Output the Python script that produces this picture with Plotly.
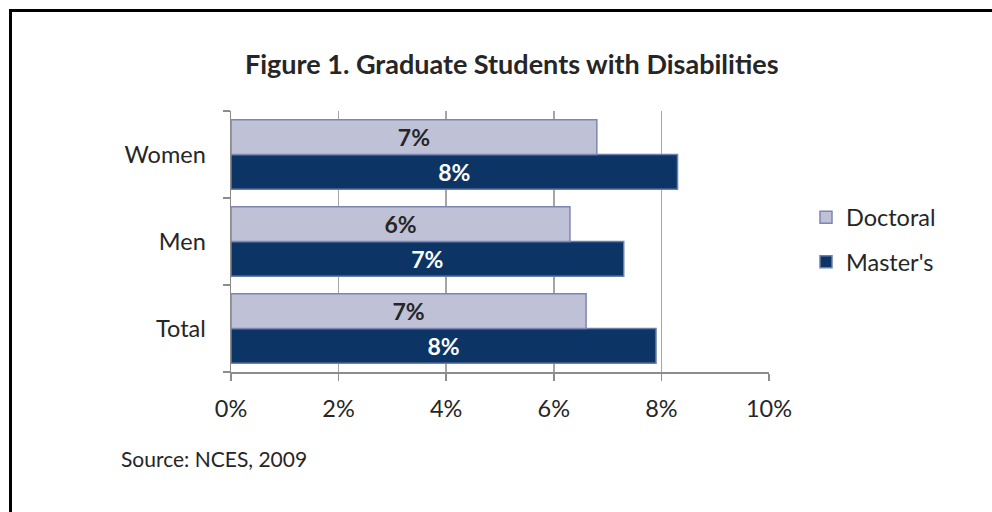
import plotly.graph_objects as go

categories = ["Women", "Men", "Total"]
doctoral = [6.8, 6.3, 6.6]
masters = [8.3, 7.3, 7.9]
x_ticks = [0, 2, 4, 6, 8, 10]
x_tick_labels = ["0%", "2%", "4%", "6%", "8%", "10%"]

FONT = "Lato"
W, H = 992, 512
L, R, T, B = 231, 769, 111, 372

fig = go.Figure()
fig.add_trace(go.Bar(
    y=categories, x=masters, orientation="h", name="Master's",
    marker=dict(color="#0C3566", line=dict(color="#6B7FAE", width=1.5)),
    texttemplate="%{x:.0f}%", textposition="inside", insidetextanchor="middle",
    textfont=dict(family=FONT, size=23, color="white", weight="bold"),
    legendgroup="m", legendrank=2, hoverinfo="skip",
))
fig.add_trace(go.Bar(
    y=categories, x=doctoral, orientation="h", name="Doctoral",
    marker=dict(color="#BFC1D6", line=dict(color="#7D86B3", width=1.5)),
    texttemplate="%{x:.0f}%", textposition="inside", insidetextanchor="middle",
    textfont=dict(family=FONT, size=23, color="#262626", weight="bold"),
    legendgroup="d", legendrank=1, hoverinfo="skip",
))

def px_x(p):
    return (p - L) / (R - L)

def px_y(p):
    return (B - p) / (B - T)

fig.update_layout(
    width=W, height=H,
    margin=dict(l=L, r=W - R, t=T, b=H - B, pad=0),
    paper_bgcolor="white", plot_bgcolor="white",
    barmode="group", bargap=0.2, bargroupgap=0,
    uniformtext=dict(minsize=23, mode="show"),
    font=dict(family=FONT, size=23, color="#262626"),
    xaxis=dict(
        range=[0, 10], tickvals=x_ticks, ticktext=x_tick_labels,
        showgrid=True, gridcolor="#A6A6A6", gridwidth=1.5,
        showline=True, linecolor="#8C8C8C", linewidth=1.5,
        ticks="outside", ticklen=7, tickcolor="#8C8C8C", tickwidth=1.5,
        zeroline=False, fixedrange=True, ticklabelstandoff=8,
        tickfont=dict(family=FONT, size=23.5, color="#262626"),
    ),
    yaxis=dict(
        categoryorder="array", categoryarray=categories[::-1],
        showgrid=False, showline=True, linecolor="#8C8C8C", linewidth=1.5,
        ticks="outside", ticklen=7, tickcolor="#8C8C8C", tickwidth=1.5,
        tickson="boundaries", ticklabelstandoff=19, fixedrange=True,
        tickfont=dict(family=FONT, size=23.5, color="#262626"),
    ),
    legend=dict(
        x=px_x(806), xanchor="left", y=px_y(240), yanchor="middle",
        traceorder="grouped", tracegroupgap=11,
        font=dict(family=FONT, size=23.5, color="#262626"),
        bgcolor="rgba(0,0,0,0)",
    ),
    showlegend=True,
)

fig.add_annotation(
    text="<b>Figure 1. Graduate Students with Disabilities</b>",
    xref="paper", yref="paper", x=px_x(512), y=px_y(63),
    xanchor="center", yanchor="middle", showarrow=False,
    font=dict(family=FONT, size=27, color="#262626"),
)
fig.add_annotation(
    text="Source: NCES, 2009",
    xref="paper", yref="paper", x=px_x(119), y=px_y(458),
    xanchor="left", yanchor="middle", showarrow=False,
    font=dict(family=FONT, size=21, color="#262626"),
)

# outer frame (left and top edges visible)
fig.add_shape(type="line", xref="paper", yref="paper",
              x0=px_x(10.5), x1=px_x(10.5), y0=px_y(520), y1=px_y(10.5),
              line=dict(color="black", width=3))
fig.add_shape(type="line", xref="paper", yref="paper",
              x0=px_x(9), x1=px_x(1000), y0=px_y(10.5), y1=px_y(10.5),
              line=dict(color="black", width=3))

fig.write_html("out.html",
               config={"displayModeBar": False, "staticPlot": True},
               post_script="document.body.style.margin='0px';document.body.style.overflow='hidden';")
